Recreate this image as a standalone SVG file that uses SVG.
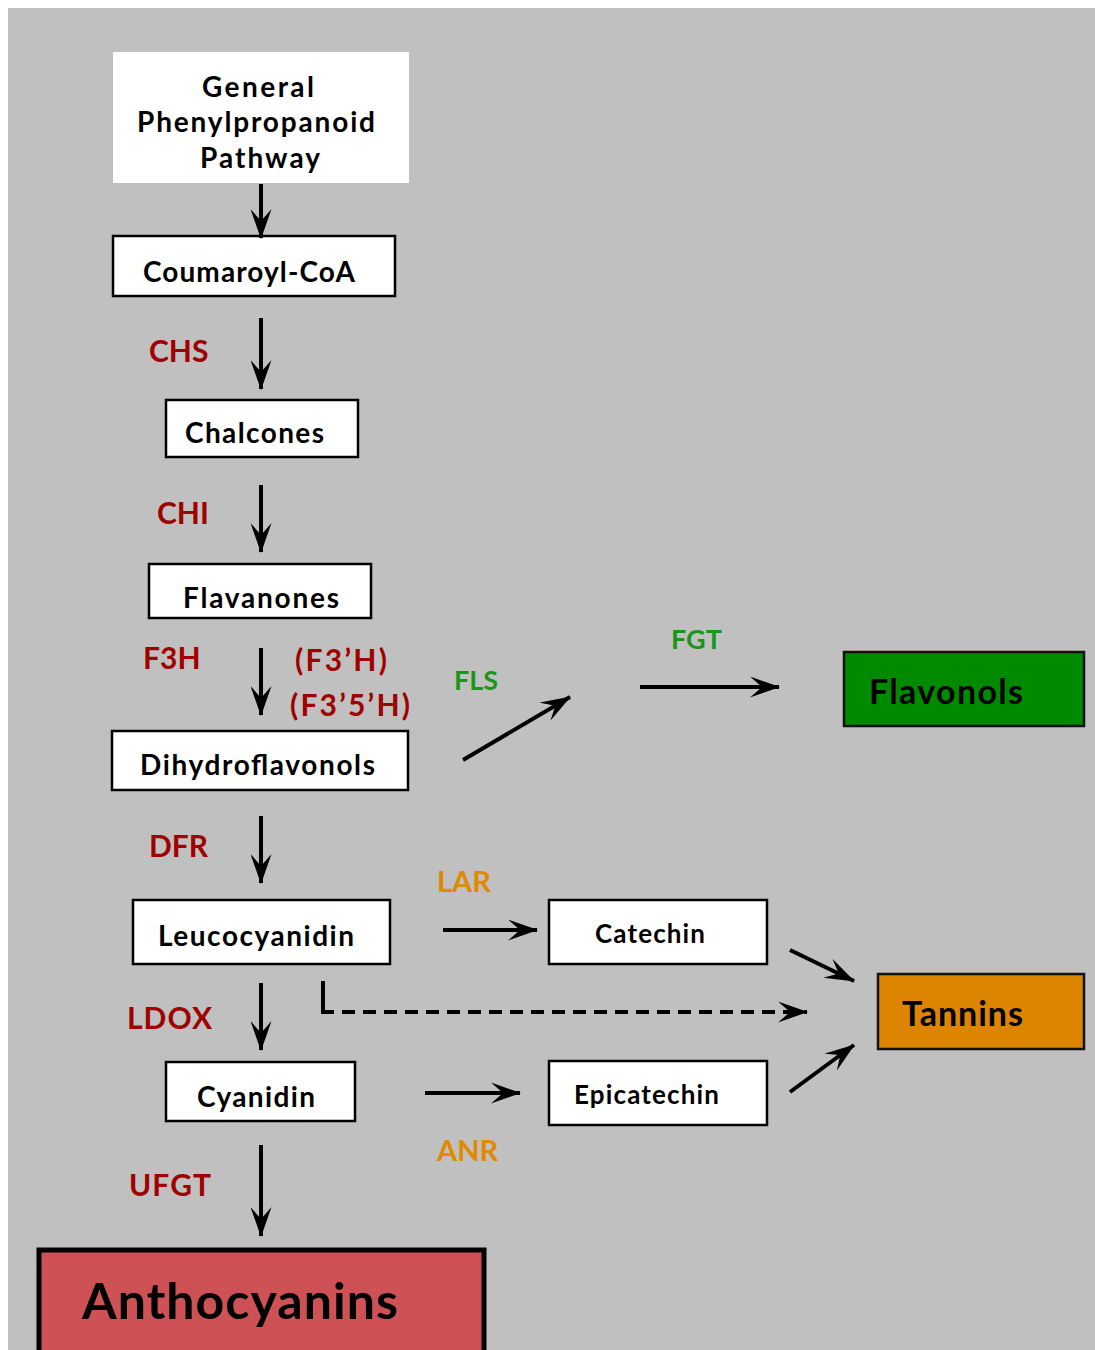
<svg xmlns="http://www.w3.org/2000/svg" width="1095" height="1350" viewBox="0 0 1095 1350">
<style>
text{font-family:Lato,"Liberation Sans",sans-serif;font-weight:bold}
.box{fill:#fff;stroke:#000;stroke-width:2.5}
.lbl{font-size:28px;fill:#000}
.red{font-size:30px;fill:#a00000}
.grn{font-size:27px;fill:#1a961a}
.org{font-size:29px;fill:#e08a00}
.big{font-size:34px;fill:#000}
.ln{stroke:#000;stroke-width:4;fill:none;marker-end:url(#ah)}
</style>
<defs>
<marker id="ah" viewBox="0 0 30 21" refX="29" refY="10.5" markerWidth="7.5" markerHeight="5.25" orient="auto">
<path d="M0,0 L30,10.5 L0,21 L12,10.5 z" fill="#000"/>
</marker>
</defs>
<rect x="0" y="0" width="1095" height="1350" fill="#fff"/>
<rect x="8" y="8" width="1087" height="1342" fill="#c0c0c0"/>

<g id="gpp">
<rect x="113" y="52" width="296" height="131" fill="#fff"/>
<text class="lbl" x="258" y="97" text-anchor="middle" textLength="112">General</text>
<text class="lbl" x="256" y="132" text-anchor="middle" textLength="238">Phenylpropanoid</text>
<text class="lbl" x="260" y="168" text-anchor="middle" textLength="120">Pathway</text>
</g>
<g id="coumaroyl">
<rect class="box" x="113" y="236" width="282" height="60"/>
<text class="lbl" x="143" y="282" textLength="212">Coumaroyl-CoA</text>
</g>
<g id="chalcones">
<rect class="box" x="166" y="400" width="192" height="57"/>
<text class="lbl" x="185" y="443" textLength="139">Chalcones</text>
</g>
<g id="flavanones">
<rect class="box" x="149" y="564" width="222" height="54"/>
<text class="lbl" x="183" y="608" textLength="156">Flavanones</text>
</g>
<g id="dihydroflavonols">
<rect class="box" x="112" y="731" width="296" height="59"/>
<text class="lbl" x="140" y="775" textLength="235">Dihydroflavonols</text>
</g>
<g id="leucocyanidin">
<rect class="box" x="133" y="900" width="257" height="64"/>
<text class="lbl" x="158" y="946" textLength="196">Leucocyanidin</text>
</g>
<g id="cyanidin">
<rect class="box" x="166" y="1062" width="189" height="59"/>
<text class="lbl" x="197" y="1107" textLength="118">Cyanidin</text>
</g>
<g id="anthocyanins">
<rect x="39" y="1250" width="445" height="105" fill="#cd5155" stroke="#000" stroke-width="5"/>
<text x="82" y="1319" font-size="50" fill="#000" textLength="316">Anthocyanins</text>
</g>
<g id="flavonols">
<rect x="844" y="652" width="240" height="74" fill="#008a00" stroke="#111" stroke-width="2.5"/>
<text class="big" x="869" y="704" textLength="154">Flavonols</text>
</g>
<g id="catechin">
<rect class="box" x="549" y="900" width="218" height="64"/>
<text x="595" y="943" font-size="26" fill="#000" textLength="110">Catechin</text>
</g>
<g id="epicatechin">
<rect class="box" x="549" y="1061" width="218" height="64"/>
<text x="574" y="1104" font-size="26" fill="#000" textLength="145">Epicatechin</text>
</g>
<g id="tannins">
<rect x="878" y="974" width="206" height="75" fill="#dd8400" stroke="#111" stroke-width="2.5"/>
<text class="big" x="902" y="1026" textLength="121">Tannins</text>
</g>

<g id="labels">
<text class="red" x="149" y="362">CHS</text>
<text class="red" x="157" y="524">CHI</text>
<text class="red" x="143" y="669">F3H</text>
<text class="red" x="295" y="671" textLength="92">(F3’H)</text>
<text class="red" x="290" y="716" textLength="120">(F3’5’H)</text>
<text class="red" x="149" y="857">DFR</text>
<text class="red" x="127" y="1029" textLength="85">LDOX</text>
<text class="red" x="129" y="1196" textLength="82">UFGT</text>
<text class="grn" x="454" y="690">FLS</text>
<text class="grn" x="671" y="649">FGT</text>
<text class="org" x="437" y="892">LAR</text>
<text class="org" x="437" y="1161">ANR</text>
</g>

<g id="connectors">
<line class="ln" x1="261" y1="184" x2="261" y2="238"/>
<line class="ln" x1="261" y1="318" x2="261" y2="389"/>
<line class="ln" x1="261" y1="485" x2="261" y2="552"/>
<line class="ln" x1="261" y1="648" x2="261" y2="715"/>
<line class="ln" x1="261" y1="816" x2="261" y2="883"/>
<line class="ln" x1="261" y1="983" x2="261" y2="1050"/>
<line class="ln" x1="261" y1="1145" x2="261" y2="1236"/>
<line class="ln" x1="463" y1="760" x2="570" y2="697"/>
<line class="ln" x1="640" y1="687" x2="779" y2="687"/>
<line class="ln" x1="443" y1="930" x2="537" y2="930"/>
<line class="ln" x1="425" y1="1093" x2="520" y2="1093"/>
<line class="ln" x1="790" y1="950" x2="854" y2="981"/>
<line class="ln" x1="790" y1="1092" x2="854" y2="1045"/>
<g id="leuco-tannins">
<path d="M323,981 L323,1012 L334,1012" stroke="#000" stroke-width="4" fill="none"/>
<path class="ln" d="M342,1012 L807,1012" stroke-dasharray="13,8"/>
</g>
</g>
</svg>
